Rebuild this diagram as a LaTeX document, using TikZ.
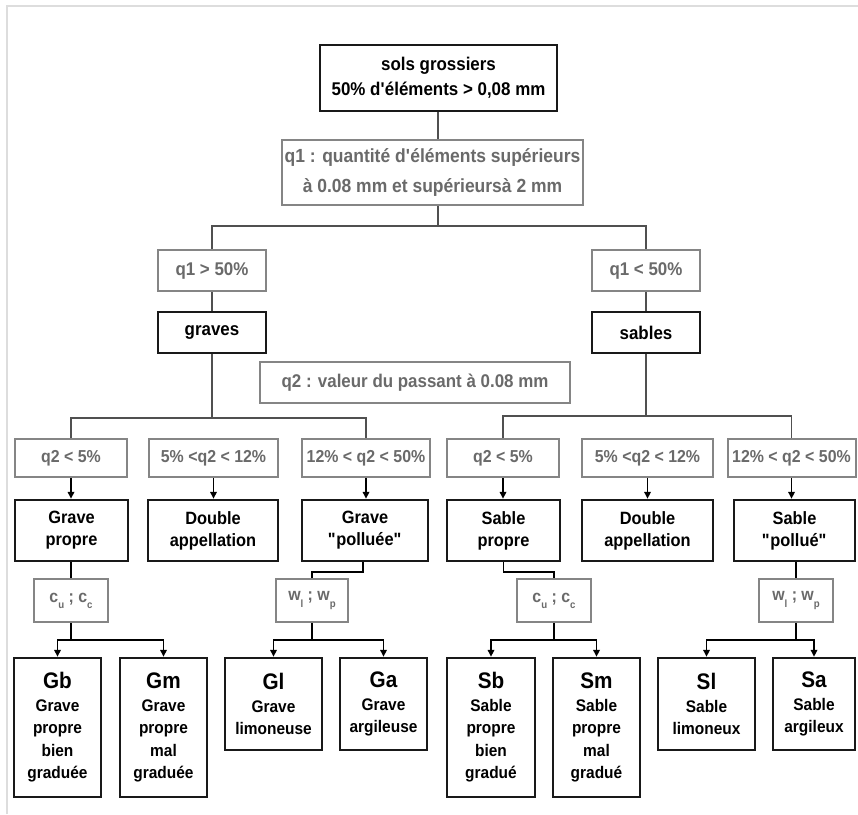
\documentclass[tikz,border=0pt]{standalone}
\usepackage{fontspec}
\setmainfont{Liberation Sans}[FakeStretch=0.92]
\usetikzlibrary{arrows.meta}
\definecolor{boxgrey}{HTML}{858585}
\definecolor{txtgrey}{HTML}{6A6A6A}
\definecolor{linkc}{HTML}{505050}
\definecolor{framec}{HTML}{DDDDDD}
\newcommand{\sbs}[1]{\raisebox{-0.35em}{\fontsize{10.5}{10.5}\selectfont #1}}
\newcommand{\dq}{\textquotedbl}
\newcommand{\ap}{\textquotesingle}
\tikzset{
  gbox/.style={draw=boxgrey, line width=2pt, text=txtgrey, inner sep=0pt, align=center,
    font=\fontsize{17.3}{21}\selectfont\bfseries},
  bbox/.style={draw=black!90, line width=2.4pt, text=black, inner sep=0pt, align=center,
    font=\fontsize{17.8}{22}\selectfont\bfseries},
  leaf/.style={bbox, font=\fontsize{16.8}{22.5}\selectfont\bfseries},
  big/.style={font=\fontsize{18.4}{25}\selectfont\bfseries},
  link/.style={draw=linkc, line width=1.6pt},
  blink/.style={draw=black, line width=1.8pt},
  arr/.style={draw=black, line width=1.6pt, -{Triangle[width=6.5pt,length=7pt]}},
}
\newcommand{\code}[1]{{\fontsize{22.5}{27}\selectfont #1}}
\begin{document}
\begin{tikzpicture}[x=1pt,y=-1pt]
\useasboundingbox (0,0) rectangle (858,814);
\fill[white] (0,0) rectangle (858,814);
\draw[framec, line width=2pt] (7,814) -- (7,6) -- (858,6);

% top levels
\node[bbox, big, minimum width=237pt, minimum height=66pt] (top) at (438.5,78) {sols grossiers\\50\% d\ap éléments > 0,08 mm};
\node[gbox, minimum width=301pt, minimum height=65pt, font=\fontsize{19}{29}\selectfont\bfseries] (q1) at (432.5,172.5) {q1 : quantité d\ap éléments supérieurs\\à 0.08 mm et supérieursà 2 mm};
\node[gbox, big, minimum width=108pt, minimum height=41pt] (q1a) at (212,270.5) {q1 > 50\%};
\node[bbox, big, minimum width=108pt, minimum height=41pt] (graves) at (212,332.5) {graves};
\node[gbox, big, minimum width=108pt, minimum height=41pt] (q1b) at (646,270.5) {q1 < 50\%};
\node[bbox, big, minimum width=108pt, minimum height=41pt] (sables) at (646,332.5) {sables};
\node[gbox, big, minimum width=310pt, minimum height=41pt] (q2) at (415,382.5) {q2 : valeur du passant à 0.08 mm};

% q2 conditions
\node[gbox, minimum width=112pt, minimum height=38pt] (L1) at (71,458) {q2 < 5\%};
\node[gbox, minimum width=129pt, minimum height=38pt] (L2) at (213.5,458) {5\% <q2 < 12\%};
\node[gbox, minimum width=128pt, minimum height=38pt] (L3) at (366,458) {12\% < q2 < 50\%};
\node[gbox, minimum width=112pt, minimum height=38pt] (R1) at (503,458) {q2 < 5\%};
\node[gbox, minimum width=131pt, minimum height=38pt] (R2) at (647.5,458) {5\% <q2 < 12\%};
\node[gbox, minimum width=128pt, minimum height=38pt] (R3) at (791.5,458) {12\% < q2 < 50\%};

% second row
\node[bbox, minimum width=113pt, minimum height=61pt] (GP) at (71.5,530.5) {Grave\\propre};
\node[bbox, minimum width=130pt, minimum height=61pt] (GD) at (213,530.5) {Double\\appellation};
\node[bbox, minimum width=126pt, minimum height=61pt] (GPol) at (365,530.5) {Grave\\\dq polluée\dq};
\node[bbox, minimum width=113pt, minimum height=61pt] (SP) at (503.5,530.5) {Sable\\propre};
\node[bbox, minimum width=131pt, minimum height=61pt] (SD) at (647.5,530.5) {Double\\appellation};
\node[bbox, minimum width=121pt, minimum height=61pt] (SPol) at (794.5,530.5) {Sable\\\dq pollué\dq};

% criteria
\node[gbox, minimum width=74pt, minimum height=43pt] (cuL) at (71,600.5) {c\sbs{u} ; c\sbs{c}};
\node[gbox, minimum width=72pt, minimum height=43pt] (wlL) at (312,600.5) {w\sbs{l} ; w\sbs{p}};
\node[gbox, minimum width=74pt, minimum height=43pt] (cuR) at (554,600.5) {c\sbs{u} ; c\sbs{c}};
\node[gbox, minimum width=74pt, minimum height=43pt] (wlR) at (796,600.5) {w\sbs{l} ; w\sbs{p}};

% leaves
\node[leaf, minimum width=87pt, minimum height=139pt] (Gb) at (57.5,727.5) {\code{Gb}\\Grave\\propre\\bien\\graduée};
\node[leaf, minimum width=87pt, minimum height=139pt] (Gm) at (163.5,727.5) {\code{Gm}\\Grave\\propre\\mal\\graduée};
\node[leaf, minimum width=97pt, minimum height=92pt] (Gl) at (273.5,704) {\code{Gl}\\Grave\\limoneuse};
\node[leaf, minimum width=87pt, minimum height=92pt] (Ga) at (383.5,704) {\code{Ga}\\Grave\\argileuse};
\node[leaf, minimum width=88pt, minimum height=139pt] (Sb) at (491,727.5) {\code{Sb}\\Sable\\propre\\bien\\gradué};
\node[leaf, minimum width=87pt, minimum height=139pt] (Sm) at (596.5,727.5) {\code{Sm}\\Sable\\propre\\mal\\gradué};
\node[leaf, minimum width=97pt, minimum height=92pt] (Sl) at (706.5,704) {\code{Sl}\\Sable\\limoneux};
\node[leaf, minimum width=82pt, minimum height=92pt] (Sa) at (814,704) {\code{Sa}\\Sable\\argileux};

% top tree connectors
\coordinate (j1) at (438,226);
\draw[link] (top.south -| j1) -- (q1.north -| j1);
\draw[link] (q1.south -| j1) -- (j1);
\draw[link] (q1a.north) |- (j1) -| (q1b.north);
\draw[link] (q1a.south) -- (graves.north);
\draw[link] (q1b.south) -- (sables.north);

\coordinate (hL) at (212,418);
\coordinate (hR) at (646,416);
\draw[link] (graves.south) -- (hL);
\draw[link] (L1.north) |- (hL) -| (L3.north);
\draw[link] (sables.south) -- (hR);
\draw[link] (R1.north) |- (hR) -| (R3.north);

% conditions -> classes
\draw[arr] (L1.south) -- (L1.south |- GP.north);
\draw[arr] (L2.south) -- (L2.south |- GD.north);
\draw[arr] (L3.south) -- (L3.south |- GPol.north);
\draw[arr] (R1.south) -- (R1.south |- SP.north);
\draw[arr] (R2.south) -- (R2.south |- SD.north);
\draw[arr] (R3.south) -- (R3.south |- SPol.north);

% classes -> criteria
\draw[blink] (GP.south -| cuL.north) -- (cuL.north);
\draw[blink] ([xshift=-2pt]GPol.south) -- ++(0,10) -| (wlL.north);
\draw[blink] (SP.south) -- ++(0,10) -| (cuR.north);
\draw[blink] (SPol.south -| wlR.north) -- (wlR.north);

% criteria -> leaves
\draw[arr] (cuL.south) -- ++(0,17) -| (Gb.north);
\draw[arr] (cuL.south) -- ++(0,17) -| (Gm.north);
\draw[arr] (wlL.south) -- ++(0,17) -| (Gl.north);
\draw[arr] (wlL.south) -- ++(0,17) -| (Ga.north);
\draw[arr] (cuR.south) -- ++(0,17) -| (Sb.north);
\draw[arr] (cuR.south) -- ++(0,17) -| (Sm.north);
\draw[arr] (wlR.south) -- ++(0,17) -| (Sl.north);
\draw[arr] (wlR.south) -- ++(0,17) -| (Sa.north);
\end{tikzpicture}
\end{document}
